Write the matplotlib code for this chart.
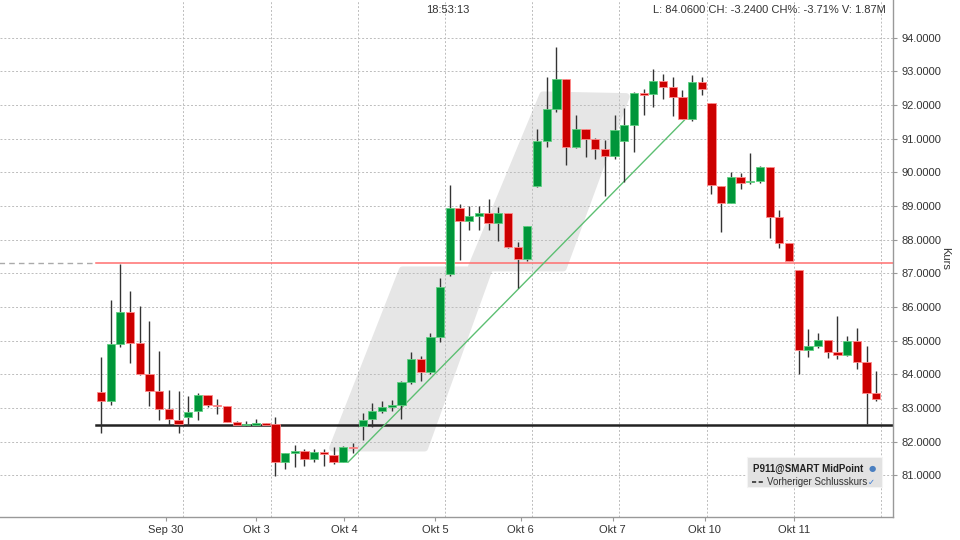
import matplotlib
matplotlib.use('Agg')
import matplotlib.pyplot as plt
from matplotlib.patches import Polygon, Rectangle
from matplotlib.lines import Line2D
import numpy as np

# hourly candles, Sep 29 .. Okt 11 (9 per day)
opens = [83.48, 83.21, 84.89, 85.84, 84.92, 84.01, 83.49, 82.97, 82.64,
         82.73, 82.90, 83.37, 83.09, 83.05, 82.57, 82.48, 82.50, 82.55,
         82.51, 81.39, 81.67, 81.72, 81.47, 81.70, 81.59, 81.40, 81.85,
         82.46, 82.66, 82.92, 83.04, 83.09, 83.76, 84.46, 84.08, 85.12,
         86.98, 88.93, 88.56, 88.71, 88.80, 88.48, 88.78, 87.77, 87.42,
         89.60, 90.94, 91.88, 92.76, 90.76, 91.30, 90.99, 90.69, 90.49,
         90.92, 91.40, 92.35, 92.33, 92.72, 92.54, 92.25, 91.58, 92.69,
         92.07, 89.59, 89.10, 89.85, 89.70, 89.74, 90.17, 88.66, 87.89,
         87.10, 84.72, 84.84, 85.02, 84.65, 84.57, 84.99, 84.36, 83.43]
highs = [84.50, 86.21, 87.28, 86.48, 86.03, 85.57, 84.70, 83.53, 83.49,
         83.36, 83.43, 83.39, 83.26, 83.05, 82.61, 82.61, 82.66, 82.55,
         82.72, 81.65, 81.89, 81.79, 81.77, 81.77, 81.85, 81.86, 81.97,
         82.86, 83.14, 83.22, 83.24, 83.81, 84.67, 84.54, 85.24, 86.87,
         89.62, 89.06, 88.99, 89.00, 89.20, 88.96, 88.78, 87.94, 88.41,
         91.28, 92.82, 93.71, 92.76, 91.70, 91.30, 91.03, 90.96, 91.70,
         91.90, 92.39, 92.49, 93.06, 92.92, 92.84, 92.46, 92.89, 92.82,
         92.07, 89.59, 90.02, 89.99, 90.58, 90.19, 90.17, 88.88, 87.89,
         87.10, 85.35, 85.22, 85.02, 85.73, 85.14, 85.39, 84.84, 84.10]
lows = [82.27, 83.08, 84.82, 84.33, 83.97, 83.07, 82.64, 82.49, 82.26,
        82.49, 82.64, 83.04, 82.82, 82.57, 82.50, 82.46, 82.49, 82.49,
        80.98, 81.18, 81.24, 81.28, 81.40, 81.28, 81.34, 81.40, 81.65,
        82.05, 82.42, 82.84, 82.90, 82.66, 83.72, 83.81, 84.02, 84.97,
        86.92, 87.41, 88.29, 88.29, 88.30, 87.95, 87.74, 86.55, 87.38,
        89.57, 90.76, 91.80, 90.22, 90.71, 90.46, 90.39, 89.31, 90.41,
        89.72, 90.61, 91.70, 91.95, 92.18, 91.67, 91.58, 91.53, 92.30,
        89.37, 88.24, 89.08, 89.49, 89.64, 89.67, 88.06, 87.76, 87.37,
        84.01, 84.52, 84.79, 84.47, 84.45, 84.55, 84.15, 82.52, 83.22]
closes = [83.21, 84.89, 85.84, 84.93, 84.01, 83.49, 82.97, 82.66, 82.53,
          82.89, 83.37, 83.10, 83.05, 82.57, 82.50, 82.50, 82.55, 82.50,
          81.39, 81.65, 81.72, 81.47, 81.70, 81.62, 81.40, 81.85, 81.81,
          82.64, 82.92, 83.04, 83.09, 83.76, 84.46, 84.08, 85.12, 86.58,
          88.93, 88.56, 88.70, 88.80, 88.48, 88.78, 87.77, 87.42, 88.41,
          90.93, 91.88, 92.76, 90.76, 91.30, 90.99, 90.69, 90.49, 91.26,
          91.40, 92.35, 92.30, 92.72, 92.54, 92.25, 91.58, 92.69, 92.47,
          89.61, 89.10, 89.85, 89.69, 89.74, 90.17, 88.67, 87.91, 87.37,
          84.72, 84.84, 85.02, 84.65, 84.57, 84.99, 84.36, 83.43, 83.28]

day_labels = ['Sep 30', 'Okt 3', 'Okt 4', 'Okt 5', 'Okt 6', 'Okt 7', 'Okt 10', 'Okt 11']
day_label_pos = [6.7, 16.0, 25.1, 34.5, 43.3, 52.8, 62.3, 71.5]
price_ticks = list(range(81, 95))

prev_close = 87.32
support = 82.49
trend_x = [25.5, 60.2]
trend_y = [81.39, 91.55]
band_x = [23.9, 33.4, 40.1, 47.7, 54.2, 45.6, 38.1, 31.1]
band_y = [81.81, 81.81, 87.16, 87.16, 92.25, 92.30, 87.10, 87.10]

header_time = '18:53:13'
header_quote = 'L: 84.0600 CH: -3.2400 CH%: -3.71% V: 1.87M'

plt.rcParams['font.family'] = ['Liberation Sans', 'DejaVu Sans']

GREEN = '#00963a'
RED = '#cc0000'
GRID = '#bcbcbc'

fig = plt.figure(figsize=(9.6, 5.4), dpi=100)
ax = fig.add_axes([0, 23 / 540, 893 / 960, 517 / 540])

n = len(opens)
x = np.arange(n)
o = np.array(opens)
c = np.array(closes)
up = c >= o

# grid
for p in price_ticks:
    ax.axhline(p, color=GRID, lw=0.7, ls=(0, (2, 2)), zorder=1)
for d in np.arange(8.5, n, 9):
    ax.axvline(d, color=GRID, lw=0.7, ls=(0, (2, 2)), zorder=1)

# drawn band
band = Polygon(list(zip(band_x, band_y)), closed=True, facecolor='#e6e6e6',
               edgecolor='#e6e6e6', lw=5, joinstyle='round', zorder=0.5)
ax.add_patch(band)

# horizontal lines
ax.plot([-10.5, -0.5], [prev_close, prev_close], color='#aaaaaa', lw=1, ls=(0, (4, 3)), zorder=2)
ax.plot([-0.5, 82], [prev_close, prev_close], color='#ff6f6f', lw=1.1, zorder=2)
ax.plot([-0.5, 82], [support, support], color='#222222', lw=1.8, zorder=2)
ax.plot(trend_x, trend_y, color='#5cbf72', lw=1.0, zorder=2)

# candles
ax.vlines(x, lows, highs, color='#333333', lw=1.0, zorder=3)
bottoms = np.minimum(o, c)
heights = np.maximum(np.abs(c - o), 0.04)
ax.bar(x[up], heights[up], bottom=bottoms[up], width=0.85, color=GREEN,
       edgecolor='#5fcf80', lw=0.6, zorder=4)
ax.bar(x[~up], heights[~up], bottom=bottoms[~up], width=0.85, color=RED,
       edgecolor='#ff8c8c', lw=0.6, zorder=4)

ax.set_xlim(-10.42, 81.73)
ax.set_ylim(79.76, 95.12)

for s in ['left', 'top']:
    ax.spines[s].set_visible(False)
for s in ['right', 'bottom']:
    ax.spines[s].set_color('#999999')
    ax.spines[s].set_linewidth(1)

ax.yaxis.tick_right()
ax.yaxis.set_label_position('right')
ax.set_yticks(price_ticks)
ax.set_yticklabels(['%.4f' % p for p in price_ticks])
ax.set_xticks(day_label_pos)
ax.set_xticklabels(day_labels)
ax.tick_params(axis='both', labelsize=8, colors='#999999', labelcolor='#333333',
               length=3, width=0.8, pad=3)
ax.set_ylabel('Kurs', rotation=270, fontsize=8, color='#333333', labelpad=6)

# header
fig.text(448 / 960, 1 - 10 / 540, header_time, ha='center', va='center',
         fontsize=8, color='#333333')
fig.text(886 / 960, 1 - 10 / 540, header_quote, ha='right', va='center',
         fontsize=8, color='#333333')

# legend box
lx0, ly0, lw_, lh_ = 747, 457, 135, 30
fig.patches.append(Rectangle((lx0 / 960, 1 - (ly0 + lh_) / 540), lw_ / 960, lh_ / 540,
                             transform=fig.transFigure, facecolor='#e2e2e2',
                             edgecolor='#f4f4f4', lw=0.8, zorder=5))
fig.text(753 / 960, 1 - 469 / 540, 'P911@SMART MidPoint', ha='left', va='center',
         fontsize=7, fontweight='bold', color='#222222', zorder=6)
fig.text(872 / 960, 1 - 469 / 540, '\u25cf', ha='center', va='center',
         fontsize=6, color='#4a7fc0', family='DejaVu Sans', zorder=6)
fig.lines.append(Line2D([752 / 960, 763 / 960], [1 - 482 / 540, 1 - 482 / 540],
                        transform=fig.transFigure, color='#333333', lw=1.2,
                        ls=(0, (2.5, 1.5)), zorder=6))
fig.text(767 / 960, 1 - 482 / 540, 'Vorheriger Schlusskurs', ha='left', va='center',
         fontsize=7, color='#333333', zorder=6)
fig.text(871 / 960, 1 - 482 / 540, '\u2713', ha='center', va='center',
         fontsize=6, color='#3a78d0', family='DejaVu Sans', zorder=6)

fig.savefig('out.png', dpi=100, facecolor='white')
